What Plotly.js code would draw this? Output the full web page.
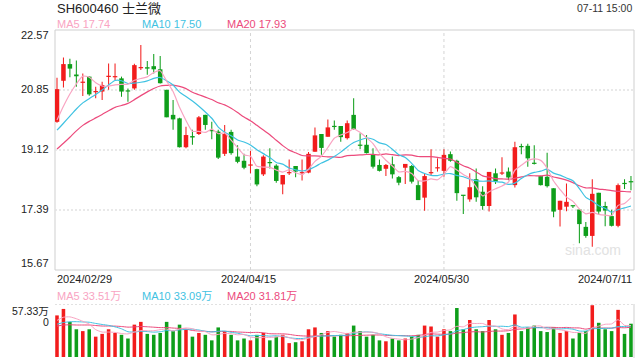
<!DOCTYPE html>
<html><head><meta charset="utf-8">
<script src="https://cdn.plot.ly/plotly-3.0.1.min.js"></script>
<style>html,body{margin:0;padding:0;background:#fff}#chart{width:640px;height:360px}</style>
</head><body><div id="chart"></div>
<script>
// ---- data ----
const tickIdx = [0, 30, 60, 89];
const tickLabels = ["2024/02/29", "2024/04/15", "2024/05/30", "2024/07/11"];
const priceTicks = [22.57, 20.85, 19.12, 17.39, 15.67];
const opens = [19.93,21.11,21.59,21.29,21.05,21.23,20.78,20.80,21.22,21.21,21.18,20.83,20.89,21.47,21.50,21.53,21.44,20.85,20.13,20.03,
 19.20,19.52,19.58,20.13,19.68,19.65,19.01,19.64,18.93,18.81,18.67,18.57,18.42,18.77,18.67,18.13,18.45,18.66,18.45,18.47,
 19.07,19.58,19.50,19.80,19.81,19.46,20.13,19.27,19.27,19.00,18.69,18.58,18.71,18.34,18.61,18.66,18.11,17.75,18.45,18.59,
 18.52,19.00,18.81,17.81,17.70,18.28,17.92,17.51,18.45,18.44,18.50,18.11,19.22,19.24,18.74,18.37,18.35,18.02,17.40,17.49,
 17.52,17.41,16.91,16.65,17.89,17.51,17.22,16.94,18.16,18.21];
const highs = [21.20,21.78,21.74,21.69,21.32,21.23,20.94,21.08,21.61,21.61,21.23,20.89,21.60,22.14,21.68,21.88,21.82,20.85,20.56,20.05,
 19.79,19.70,20.10,20.13,19.93,19.70,19.84,19.70,19.26,19.01,19.10,18.58,18.97,19.17,18.71,18.40,18.85,18.66,18.85,19.06,
 19.77,19.58,20.00,19.97,19.81,19.97,20.61,19.60,19.55,19.17,18.85,18.72,18.93,18.37,18.72,18.69,18.26,18.45,19.14,18.88,
 19.14,19.08,18.84,17.82,18.45,18.59,18.08,18.49,18.59,18.91,18.62,19.36,19.30,19.30,19.26,18.38,19.04,18.02,17.66,18.16,
 17.52,17.41,17.05,18.28,17.89,17.63,17.40,18.16,18.28,18.37];
const lows = [19.90,20.92,21.21,20.94,20.67,20.68,20.61,20.56,20.85,21.13,20.65,20.51,20.85,21.42,21.28,21.32,21.03,20.06,19.70,19.19,
 19.17,19.27,19.55,19.70,19.43,18.86,18.95,18.98,18.74,18.57,18.45,18.08,18.37,18.59,18.18,17.85,18.40,18.34,18.24,18.45,
 19.07,18.98,19.50,19.70,19.36,19.42,19.70,19.15,19.02,18.59,18.50,18.37,18.30,18.11,18.14,18.16,17.68,17.37,18.40,18.50,
 18.35,18.78,17.66,17.28,17.63,17.63,17.40,17.35,18.14,18.40,18.25,18.04,19.00,18.64,18.70,18.10,18.04,17.19,16.92,17.36,
 17.45,16.44,16.60,16.34,17.25,16.93,16.92,16.90,18.00,17.96];
const closes = [20.87,21.59,21.46,21.24,21.06,20.72,20.79,20.99,21.23,21.23,20.80,20.80,21.56,21.49,21.46,21.44,21.04,20.06,20.00,19.20,
 19.55,19.48,20.06,19.84,19.66,18.90,19.58,19.03,18.78,18.61,18.70,18.13,18.93,18.74,18.23,18.40,18.46,18.50,18.46,19.01,
 19.54,19.18,19.77,19.78,19.49,19.89,19.72,19.24,19.03,18.64,18.52,18.69,18.42,18.18,18.72,18.21,17.68,18.37,18.46,18.60,
 18.98,18.81,17.88,17.80,18.05,17.76,17.51,18.49,18.21,18.46,18.33,19.20,19.20,18.88,18.72,18.11,18.08,17.35,17.66,17.63,
 17.50,16.99,16.65,17.86,17.35,17.38,16.94,18.11,18.14,18.19];
// volume, in 万
const volumes = [45,52,38,30,28,30,22,25,30,26,24,20,35,38,25,24,26,38,28,35,
 30,22,26,24,18,32,28,24,18,20,18,24,26,18,22,24,15,16,17,30,
 32,26,28,22,24,26,34,28,22,24,18,17,20,18,20,22,24,34,33,22,
 30,28,53,30,40,30,28,40,30,24,26,46,28,32,34,28,27,32,26,28,
 20,26,28,56,37,30,28,51,25,36];
// closes / volumes of the 19 sessions before 2024/02/29 (needed by the moving averages)
const preCloses = [18.3,18.0,17.6,17.9,18.4,18.8,19.0,19.1,19.3,19.7,19.6,19.4,19.2,19.3,19.5,19.6,19.7,19.8,19.93];
const preVolumes = [30,32,35,28,30,33,36,30,28,32,34,30,29,31,33,35,36,40,42];

// ---- helpers ----
const RED = "#f21c1c", GREEN = "#0e9e1a";
const C5 = "#f9a4c2", C10 = "#3fc2e2", C20 = "#ec4a7c";
const n = closes.length;
const idx = closes.map((_, i) => i);
function movingAvg(vals, pre, k) {
  const all = pre.concat(vals);
  return vals.map((_, i) => { let s = 0; for (let j = 0; j < k; j++) s += all[pre.length + i - j]; return s / k; });
}
const up = idx.filter(i => closes[i] >= opens[i]);
const dn = idx.filter(i => closes[i] < opens[i]);
function bodyTrace(list, color) {
  return {type: "bar", x: list, base: list.map(i => Math.min(opens[i], closes[i])),
    y: list.map(i => Math.max(Math.abs(closes[i] - opens[i]), 0.035)), width: 0.7,
    marker: {color: color, line: {width: 0}}, xaxis: "x", yaxis: "y", hoverinfo: "skip"};
}
function wickTrace(list, color) {
  return {type: "bar", x: list, base: list.map(i => lows[i]), y: list.map(i => highs[i] - lows[i]),
    width: 0.16, marker: {color: color, line: {width: 0}}, xaxis: "x", yaxis: "y", hoverinfo: "skip"};
}
function volTrace(list, color) {
  return {type: "bar", x: list, y: list.map(i => volumes[i]), width: 0.55,
    marker: {color: color, line: {width: 0}}, xaxis: "x", yaxis: "y2", hoverinfo: "skip"};
}
function line(y, color, ax, w) {
  return {type: "scatter", mode: "lines", x: idx, y: y, line: {color: color, width: w, shape: "spline", smoothing: 0.6},
    xaxis: "x", yaxis: ax, hoverinfo: "skip"};
}
const traces = [
  wickTrace(up, RED), wickTrace(dn, GREEN), bodyTrace(up, RED), bodyTrace(dn, GREEN),
  line(movingAvg(closes, preCloses, 20), C20, "y", 1.2),
  line(movingAvg(closes, preCloses, 10), C10, "y", 1.2),
  line(movingAvg(closes, preCloses, 5), C5, "y", 1.2),
  volTrace(up, RED), volTrace(dn, GREEN),
  line(movingAvg(volumes, preVolumes, 20), C20, "y2", 1),
  line(movingAvg(volumes, preVolumes, 10), C10, "y2", 1),
  line(movingAvg(volumes, preVolumes, 5), C5, "y2", 1)
];

const W = 640, H = 360;
const px = x => x / W, py = y => 1 - y / H;
const FONT = "Liberation Sans, Arial, Noto Sans CJK SC, sans-serif";
const ann = [];
function txt(text, x, y, anchor, size, color) {
  ann.push({text: text, x: px(x), y: py(y), xref: "paper", yref: "paper", xanchor: anchor, yanchor: "middle",
    showarrow: false, font: {family: FONT, size: size, color: color}});
}
txt("SH600460 士兰微", 55, 8, "left", 13, "#222");
txt("07-11 15:00", 634, 8, "right", 10.5, "#333");
txt("MA5 17.74", 55, 24, "left", 11, C5);
txt("MA10 17.50", 140, 24, "left", 11, C10);
txt("MA20 17.93", 225, 24, "left", 11, C20);
const priceLabelY = [35, 89, 149, 209, 263];
priceTicks.forEach((v, k) => txt(v.toFixed(2), 51, priceLabelY[k], "right", 11, "#222"));
const xLabX = [55, 248, 441.5, 634], xAnch = ["left", "center", "center", "right"];
tickLabels.forEach((t, k) => txt(t, xLabX[k], 279, xAnch[k], 11, "#222"));
txt("MA5 33.51万", 55, 296, "left", 11, C5);
txt("MA10 33.09万", 140, 296, "left", 11, C10);
txt("MA20 31.81万", 225, 296, "left", 11, C20);
txt("57.33万", 51, 311, "right", 10.5, "#222");
txt("0", 51, 322, "right", 10.5, "#222");
txt("sina.com", 623, 250, "right", 14, "#e2e2e2");

const shapes = [];
// price panel frame
shapes.push({type: "rect", xref: "paper", yref: "paper", x0: px(55), x1: px(634), y0: py(270), y1: py(30),
  line: {color: "#cfcfcf", width: 1}, layer: "below"});
[20.845, 19.12, 17.395].forEach(v => shapes.push({type: "line", xref: "paper", yref: "y", x0: px(55), x1: px(634),
  y0: v, y1: v, line: {color: "#e2e2e2", width: 1.6, dash: "2px,2px"}, layer: "below"}));
tickIdx.slice(1, 3).forEach(i => {
  shapes.push({type: "line", xref: "x", yref: "paper", x0: i, x1: i, y0: py(270), y1: py(30),
    line: {color: "#d4d4d4", width: 1, dash: "3px,3px"}, layer: "below"});
  shapes.push({type: "line", xref: "x", yref: "paper", x0: i, x1: i, y0: py(358), y1: py(304),
    line: {color: "#d4d4d4", width: 1, dash: "3px,3px"}, layer: "below"});
});
shapes.push({type: "line", xref: "paper", yref: "y2", x0: px(55), x1: px(634), y0: 57.33, y1: 57.33,
  line: {color: "#d8d8d8", width: 1.4, dash: "2px,2px"}, layer: "below"});
shapes.push({type: "line", xref: "paper", yref: "paper", x0: px(634), x1: px(634), y0: py(358), y1: py(304),
  line: {color: "#cfcfcf", width: 1}, layer: "below"});

const layout = {
  width: W, height: H, margin: {l: 0, r: 0, t: 0, b: 0}, paper_bgcolor: "#fff", plot_bgcolor: "rgba(0,0,0,0)",
  showlegend: false, hovermode: false, barmode: "overlay", font: {family: FONT},
  xaxis: {domain: [px(55), px(634)], range: [-0.31, 89.47], visible: false, fixedrange: true},
  yaxis: {domain: [py(270), py(30)], range: [15.67, 22.57], visible: false, fixedrange: true},
  yaxis2: {domain: [py(357), py(304)], range: [0, 57.33], visible: false, fixedrange: true},
  annotations: ann, shapes: shapes
};
Plotly.newPlot("chart", traces, layout, {staticPlot: true, displayModeBar: false});
</script>
</body></html>
